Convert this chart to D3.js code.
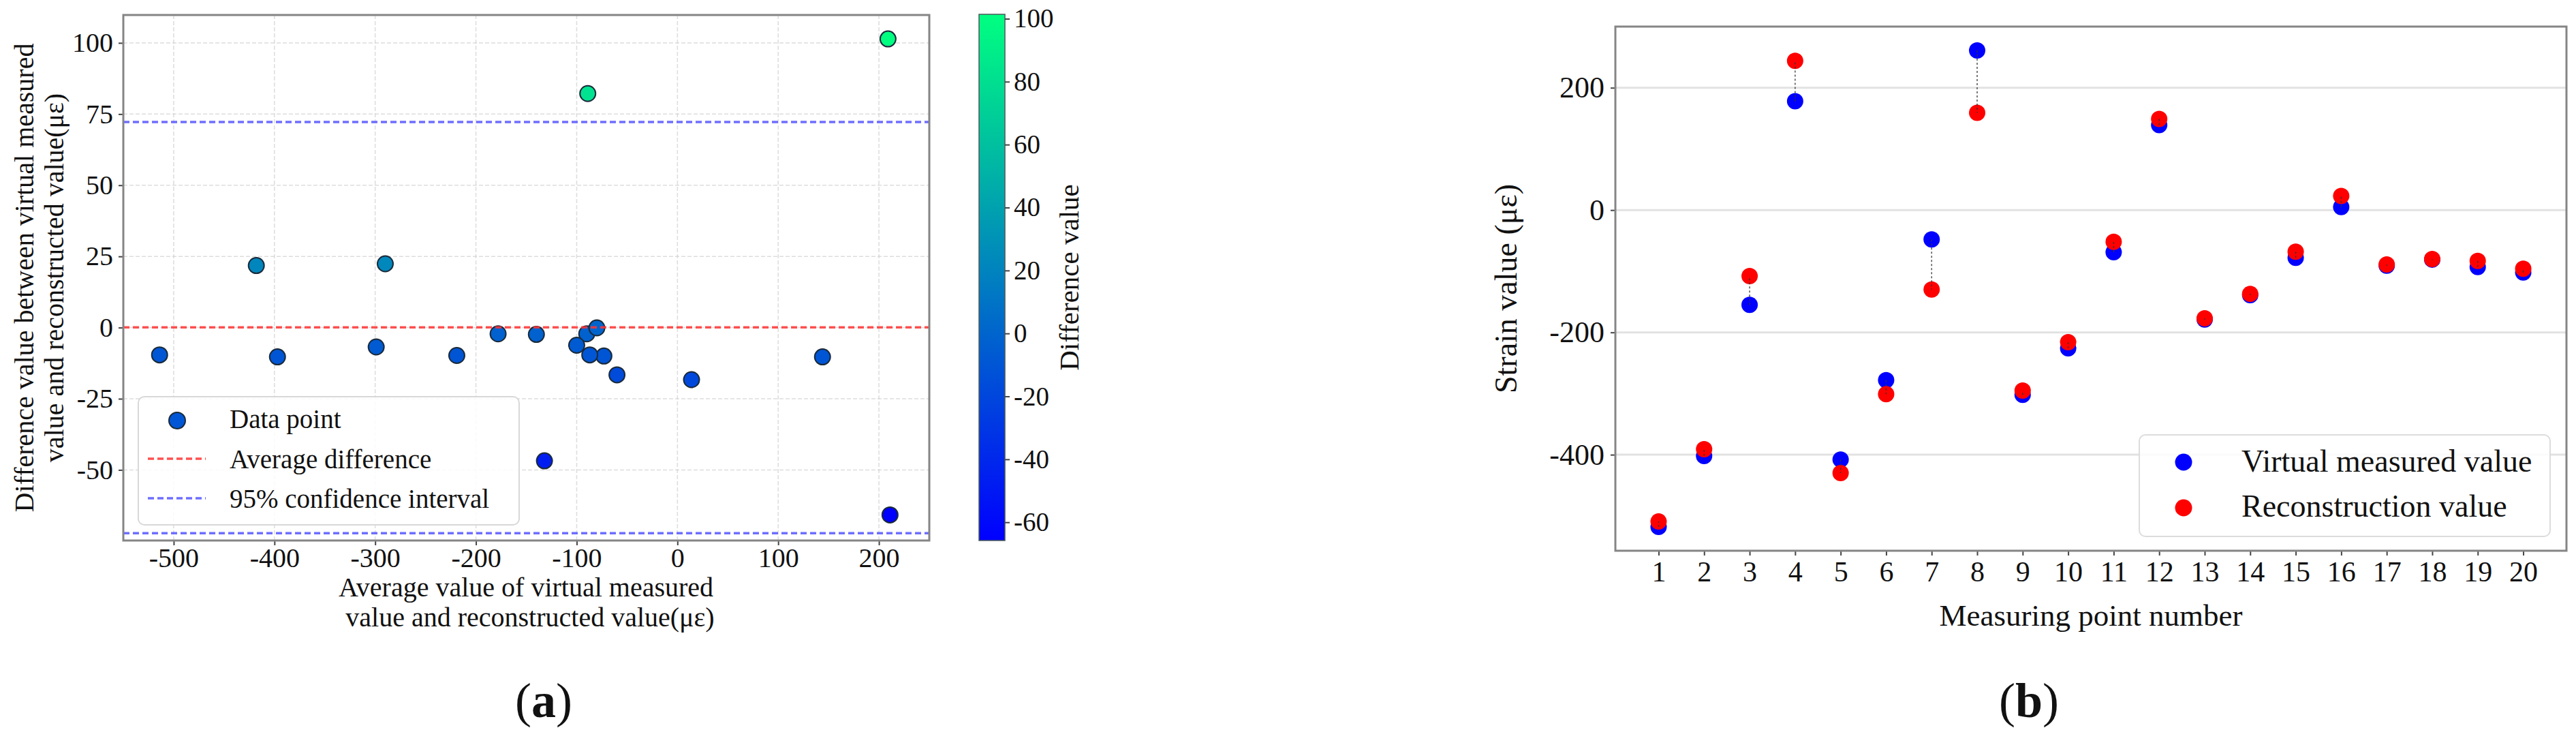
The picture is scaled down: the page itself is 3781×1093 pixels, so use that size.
<!DOCTYPE html>
<html>
<head>
<meta charset="utf-8">
<script src="https://cdn.jsdelivr.net/npm/d3@7"></script>
<style>
html,body{margin:0;padding:0;background:#fff;}
svg{display:block;}
text{font-family:"Liberation Serif","Times New Roman",serif;fill:#111;}
</style>
</head>
<body>
<svg id="fig" width="3781" height="1093"></svg>
<script>
// ---------------- data ----------------
const pointNumbers = [1,2,3,4,5,6,7,8,9,10,11,12,13,14,15,16,17,18,19,20];
const virtualMeasured = [-518,-402,-155,178,-408,-278,-48,261,-302,-226,-69,139,-179,-139,-78,5,-91,-81,-93,-102];
const reconstruction  = [-509,-391,-108,244,-430,-301,-130,159,-295,-216,-52,149,-177,-137,-68,23,-89,-80,-83,-96];

const avgValue  = [-514,-397,-132,211,-418,-290,-89,209,-299,-219,-60,144,-178,-140,-73,14,-90,-80,-87,-100];
const diffValue = [-9.6,-10.3,-46.8,-65.8,21.8,22.4,82.2,101.4,-6.8,-9.8,-16.6,-10.3,-2.2,-2.4,-10.0,-18.3,-2.2,-0.1,-9.6,-6.2];

const meanDifference = 0.1;
const ciUpper = 72.2;
const ciLower = -72.2;

const aXTicks = [-500,-400,-300,-200,-100,0,100,200];
const aYTicks = [-50,-25,0,25,50,75,100];
const cbTicks = [-60,-40,-20,0,20,40,60,80,100];
const bYTicks = [-400,-200,0,200];
const bXTicks = pointNumbers;

const legendA = ["Data point","Average difference","95% confidence interval"];
const legendB = ["Virtual measured value","Reconstruction value"];

// ---------------- helpers ----------------
const svg = d3.select("#fig");
svg.append("rect").attr("width",3781).attr("height",1093).attr("fill","#fff");
const fmt = d => String(d);   // plain hyphen minus, as in the reference

function styleAxis(g, fs){
  g.select(".domain").remove();
  g.selectAll(".tick line").attr("stroke","#444").attr("stroke-width",2);
  g.selectAll(".tick text").attr("font-size",fs).attr("fill","#111")
   .style("font-family","'Liberation Serif','Times New Roman',serif");
}

// ================= PANEL (a) =================
const A = {l:181, r:1364, t:22, b:793};
const ax = d3.scaleLinear().domain([-550,250]).range([A.l,A.r]);
const ay = d3.scaleLinear().domain([-74.8,109.8]).range([A.b,A.t]);
const winter = d3.interpolateRgb("rgb(0,0,255)","rgb(0,255,128)");
const color = d3.scaleSequential([-65.8,101.4], winter);

const gA = svg.append("g");

// grid
gA.append("g").selectAll("line").data(aXTicks).join("line")
  .attr("x1",d=>ax(d)).attr("x2",d=>ax(d)).attr("y1",A.t).attr("y2",A.b)
  .attr("stroke","#cfcfcf").attr("stroke-width",1.5).attr("stroke-dasharray","6,3").attr("opacity",0.7);
gA.append("g").selectAll("line").data(aYTicks).join("line")
  .attr("x1",A.l).attr("x2",A.r).attr("y1",d=>ay(d)).attr("y2",d=>ay(d))
  .attr("stroke","#cfcfcf").attr("stroke-width",1.5).attr("stroke-dasharray","6,3").attr("opacity",0.7);

// axes
const gAx = gA.append("g").attr("transform",`translate(0,${A.b})`)
  .call(d3.axisBottom(ax).tickValues(aXTicks).tickFormat(fmt).tickSize(7).tickPadding(4));
styleAxis(gAx, 40);
gAx.selectAll(".tick text").attr("y",39).attr("dy","0");

const gAy = gA.append("g").attr("transform",`translate(${A.l},0)`)
  .call(d3.axisLeft(ay).tickValues(aYTicks).tickFormat(fmt).tickSize(7).tickPadding(8));
styleAxis(gAy, 40);

// points
const ptsA = avgValue.map((v,i)=>({x:v, y:diffValue[i]}));
gA.append("g").selectAll("circle").data(ptsA).join("circle")
  .attr("cx",d=>ax(d.x)).attr("cy",d=>ay(d.y)).attr("r",11.5)
  .attr("fill",d=>color(d.y)).attr("stroke","#1a2a3a").attr("stroke-width",2);

// reference lines
gA.append("line").attr("x1",A.l).attr("x2",A.r).attr("y1",ay(meanDifference)).attr("y2",ay(meanDifference))
  .attr("stroke","#ff3333").attr("stroke-opacity",0.85).attr("stroke-width",3.5).attr("stroke-dasharray","9,5");
[ciUpper,ciLower].forEach(v=>{
  gA.append("line").attr("x1",A.l).attr("x2",A.r).attr("y1",ay(v)).attr("y2",ay(v))
    .attr("stroke","#5555ff").attr("stroke-opacity",0.85).attr("stroke-width",3.5).attr("stroke-dasharray","9,5");
});

// frame
gA.append("rect").attr("x",A.l).attr("y",A.t).attr("width",A.r-A.l).attr("height",A.b-A.t)
  .attr("fill","none").attr("stroke","#858585").attr("stroke-width",3);

// legend (a)
const lgA = gA.append("g");
lgA.append("rect").attr("x",203).attr("y",582).attr("width",559).attr("height",188).attr("rx",9)
  .attr("fill","#fff").attr("fill-opacity",0.85).attr("stroke","#d8d8d8").attr("stroke-width",2);
lgA.append("circle").attr("cx",260).attr("cy",617).attr("r",12)
  .attr("fill",color(diffValue[0])).attr("stroke","#1a2a3a").attr("stroke-width",2);
lgA.append("line").attr("x1",217).attr("x2",302).attr("y1",673).attr("y2",673)
  .attr("stroke","#ff3333").attr("stroke-opacity",0.85).attr("stroke-width",3.5).attr("stroke-dasharray","9,5");
lgA.append("line").attr("x1",217).attr("x2",302).attr("y1",731).attr("y2",731)
  .attr("stroke","#5555ff").attr("stroke-opacity",0.85).attr("stroke-width",3.5).attr("stroke-dasharray","9,5");
lgA.selectAll("text").data(legendA).join("text")
  .attr("x",337).attr("y",(d,i)=>628+i*58.5).attr("font-size",39).text(d=>d);

// axis labels (a)
const aXL = gA.append("text").attr("text-anchor","middle").attr("font-size",40);
aXL.append("tspan").attr("x",772).attr("y",875).text("Average value of virtual measured");
aXL.append("tspan").attr("x",778).attr("y",919).text("value and reconstructed value(με)");

const aYL = gA.append("text").attr("text-anchor","middle").attr("font-size",40)
  .attr("transform",`translate(0,${(A.t+A.b)/2}) rotate(-90)`);
aYL.append("tspan").attr("x",0).attr("y",49).text("Difference value between virtual measured");
aYL.append("tspan").attr("x",0).attr("y",93).text("value and reconstructed value(με)");

// colorbar
const CB = {l:1437, r:1475, t:21, b:793};
const cbScale = d3.scaleLinear().domain([-65.8,101.4]).range([CB.b,CB.t]);
const defs = svg.append("defs");
const grad = defs.append("linearGradient").attr("id","winterGrad")
  .attr("x1",0).attr("y1",1).attr("x2",0).attr("y2",0);
d3.range(0,1.0001,0.1).forEach(t=>{
  grad.append("stop").attr("offset",t).attr("stop-color",winter(t));
});
gA.append("rect").attr("x",CB.l).attr("y",CB.t).attr("width",CB.r-CB.l).attr("height",CB.b-CB.t)
  .attr("fill","url(#winterGrad)").attr("stroke","#4a5a5a").attr("stroke-width",1.5);
const gCb = gA.append("g").attr("transform",`translate(${CB.r},0)`)
  .call(d3.axisRight(cbScale).tickValues(cbTicks).tickFormat(fmt).tickSize(7).tickPadding(6));
styleAxis(gCb, 39);
gA.append("text").attr("text-anchor","middle").attr("font-size",41)
  .attr("transform",`translate(1583,${(CB.t+CB.b)/2}) rotate(-90)`).text("Difference value");

// caption (a)
const capA = svg.append("text").attr("text-anchor","middle").attr("x",798).attr("y",1052).attr("font-size",72);
capA.append("tspan").text("(");
capA.append("tspan").attr("font-weight","bold").text("a");
capA.append("tspan").text(")");

// ================= PANEL (b) =================
const B = {l:2371, r:3767, t:39, b:808};
const bx = d3.scaleLinear().domain([0.05,20.95]).range([B.l,B.r]);
const by = d3.scaleLinear().domain([-557,300]).range([B.b,B.t]);
const gB = svg.append("g");

gB.append("g").selectAll("line").data(bYTicks).join("line")
  .attr("x1",B.l).attr("x2",B.r).attr("y1",d=>by(d)).attr("y2",d=>by(d))
  .attr("stroke","#e2e2e2").attr("stroke-width",3);

const gBx = gB.append("g").attr("transform",`translate(0,${B.b})`)
  .call(d3.axisBottom(bx).tickValues(bXTicks).tickFormat(fmt).tickSize(7).tickPadding(4));
styleAxis(gBx, 42);
gBx.selectAll(".tick text").attr("y",45).attr("dy","0");

const gBy = gB.append("g").attr("transform",`translate(${B.l},0)`)
  .call(d3.axisLeft(by).tickValues(bYTicks).tickFormat(fmt).tickSize(7).tickPadding(9));
styleAxis(gBy, 44);

const ptsB = pointNumbers.map((n,i)=>({n, v:virtualMeasured[i], r:reconstruction[i]}));
gB.append("g").selectAll("circle").data(ptsB).join("circle")
  .attr("cx",d=>bx(d.n)).attr("cy",d=>by(d.v)).attr("r",12).attr("fill","#0000ff");
gB.append("g").selectAll("circle").data(ptsB).join("circle")
  .attr("cx",d=>bx(d.n)).attr("cy",d=>by(d.r)).attr("r",12).attr("fill","#ff0000");
gB.append("g").selectAll("line").data(ptsB).join("line")
  .attr("x1",d=>bx(d.n)).attr("x2",d=>bx(d.n)).attr("y1",d=>by(d.v)).attr("y2",d=>by(d.r))
  .attr("stroke","#333").attr("stroke-opacity",0.8).attr("stroke-width",1.6).attr("stroke-dasharray","3,3");

gB.append("rect").attr("x",B.l).attr("y",B.t).attr("width",B.r-B.l).attr("height",B.b-B.t)
  .attr("fill","none").attr("stroke","#858585").attr("stroke-width",3);

// legend (b)
const lgB = gB.append("g");
lgB.append("rect").attr("x",3140).attr("y",638).attr("width",603).attr("height",149).attr("rx",9)
  .attr("fill","#fff").attr("fill-opacity",0.85).attr("stroke","#dcdcdc").attr("stroke-width",2);
lgB.append("circle").attr("cx",3205).attr("cy",678).attr("r",12.5).attr("fill","#0000ff");
lgB.append("circle").attr("cx",3205).attr("cy",745).attr("r",12.5).attr("fill","#ff0000");
lgB.selectAll("text").data(legendB).join("text")
  .attr("x",3290).attr("y",(d,i)=>692+i*66).attr("font-size",46).text(d=>d);

// labels (b)
gB.append("text").attr("text-anchor","middle").attr("font-size",45)
  .attr("x",(B.l+B.r)/2).attr("y",918).text("Measuring point number");
gB.append("text").attr("text-anchor","middle").attr("font-size",46)
  .attr("transform",`translate(2226,${(B.t+B.b)/2}) rotate(-90)`).text("Strain value (με)");

const capB = svg.append("text").attr("text-anchor","middle").attr("x",2978).attr("y",1052).attr("font-size",72);
capB.append("tspan").text("(");
capB.append("tspan").attr("font-weight","bold").text("b");
capB.append("tspan").text(")");
</script>
</body>
</html>
